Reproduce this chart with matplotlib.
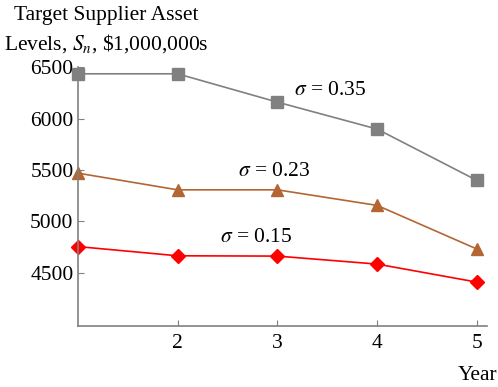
import matplotlib
matplotlib.use("Agg")
import matplotlib.pyplot as plt

plt.rcParams['font.family'] = ['Liberation Serif', 'DejaVu Serif']
plt.rcParams['mathtext.fontset'] = 'stix'

years = [1, 2, 3, 4, 5]
s035 = [6437, 6437, 6161, 5898, 5397]
s023 = [5469, 5306, 5306, 5154, 4728]
s015 = [4753, 4663, 4660, 4582, 4406]

fig = plt.figure(figsize=(4.98, 3.87), dpi=100)
ax = fig.add_axes([0.156, 0.158, 0.822, 0.668])

ax.plot(years, s035, color='#808080', marker='s', ms=8, lw=1.2, clip_on=False)
ax.plot(years, s023, color='#B36633', marker='^', ms=9, lw=1.2, clip_on=False)
ax.plot(years, s015, color='#FF0000', marker='D', ms=7.5, lw=1.2, clip_on=False)

fs = 15.5
ax.text(3.17, 6230, r'$\sigma$ = 0.35', fontsize=fs)
ax.text(2.61, 5445, r'$\sigma$ = 0.23', fontsize=fs)
ax.text(2.43, 4795, r'$\sigma$ = 0.15', fontsize=fs)

ax.set_xlim(1, 5.1)
ax.set_ylim(3980, 6500)
ax.set_xticks([2, 3, 4, 5])
ax.set_yticks([4500, 5000, 5500, 6000, 6500])
ax.tick_params(direction='in', length=4, color='#808080', labelsize=fs)
ax.tick_params(axis='x', pad=6)
ax.tick_params(axis='y', pad=3)
for side in ['top', 'right']:
    ax.spines[side].set_visible(False)
for side in ['left', 'bottom']:
    ax.spines[side].set_color('#808080')
    ax.spines[side].set_linewidth(1.2)

fig.text(0.213, 0.985, 'Target Supplier Asset\nLevels, $S_n$, \\$1,000,000s',
         ha='center', va='top', fontsize=fs, linespacing=1.4)
fig.text(0.998, 0.005, 'Year', ha='right', va='bottom', fontsize=fs)

fig.savefig('out.png', dpi=100)
